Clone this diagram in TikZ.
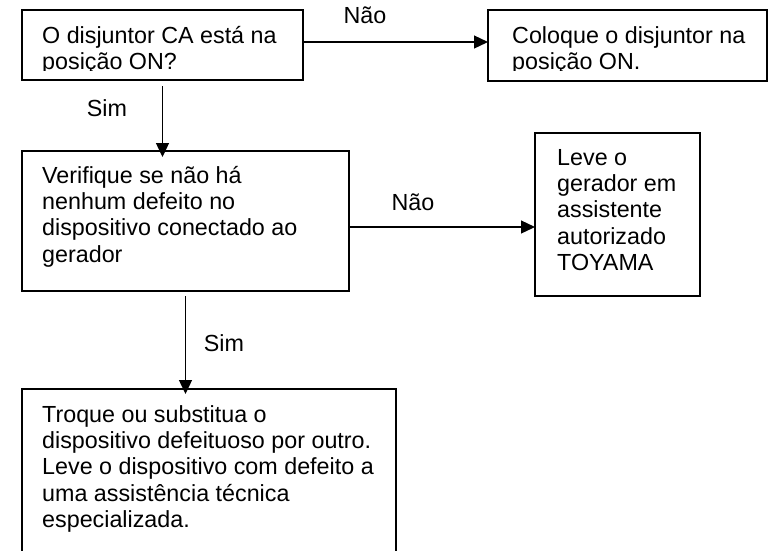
\documentclass[tikz,border=0pt]{standalone}
\usepackage{fontspec}
\setmainfont{Liberation Sans}
\usetikzlibrary{arrows.meta}
\begin{document}
\begin{tikzpicture}[x=1pt,y=-1pt,
  box/.style={draw, line width=1.8pt, anchor=north west, inner sep=0pt, outer sep=0pt},
  txt/.style={anchor=base west, inner sep=0pt, font=\fontsize{23.3}{26.4}\selectfont},
  lbl/.style={anchor=base, inner sep=0pt, font=\fontsize{23.3}{26.4}\selectfont},
  arr/.style={line width=1.3pt, -{Triangle[length=14pt,width=13pt]}}]
\fill[white] (0,0) rectangle (769,550);
\clip (0,0) rectangle (769,550);
% boxes
\node[box, minimum width=281pt, minimum height=70pt] (b1) at (22,10) {};
\node[box, minimum width=279pt, minimum height=71pt] (b2) at (488,10) {};
\node[box, minimum width=327pt, minimum height=140pt] (b3) at (22,151) {};
\node[box, minimum width=165pt, minimum height=163pt] (b4) at (535,133) {};
\node[box, minimum width=374pt, minimum height=190pt] (b5) at (22,389) {};
% texts
\begin{scope}
  \clip (b1.north west) rectangle ([yshift=10pt]b1.south east);
  \node[txt] (t1) at (42,43) {\parbox[t]{300pt}{O disjuntor CA está na\\posição ON?}};
\end{scope}
\begin{scope}
  \clip (b2.north west) rectangle ([yshift=11pt]b2.south east);
  \node[txt] (t2) at (512,43) {\parbox[t]{300pt}{Coloque o disjuntor na\\posição ON.}};
\end{scope}
\node[txt] (t3) at (42,183) {\parbox[t]{400pt}{Verifique se não há\\nenhum defeito no\\dispositivo conectado ao\\gerador}};
\node[txt] (t4) at (557,165) {\parbox[t]{200pt}{Leve o\\gerador em\\assistente\\autorizado\\TOYAMA}};
\node[txt] (t5) at (42,422) {\parbox[t]{400pt}{Troque ou substitua o\\dispositivo defeituoso por outro.\\Leve o dispositivo com defeito a\\uma assistência técnica\\especializada.}};
% labels
\node[lbl] (n1) at (365,23) {Não};
\node[lbl] (s1) at (107,116) {Sim};
\node[lbl] (n2) at (413,210) {Não};
\node[lbl] (s2) at (224,351) {Sim};
% connectors
\draw[arr] ([yshift=3pt]b1.east) -- ([yshift=3pt]b1.east -| b2.west);
\draw[arr] ([yshift=-6pt]b1.south) -- ([yshift=-6pt]b1.south |- b3.north);
\draw[arr] ([yshift=-6pt]b3.east) -- ([yshift=-6pt]b3.east -| b4.west);
\draw[arr] ([yshift=-5pt]b3.south) -- ([yshift=-5pt]b3.south |- b5.north);
\end{tikzpicture}
\end{document}
